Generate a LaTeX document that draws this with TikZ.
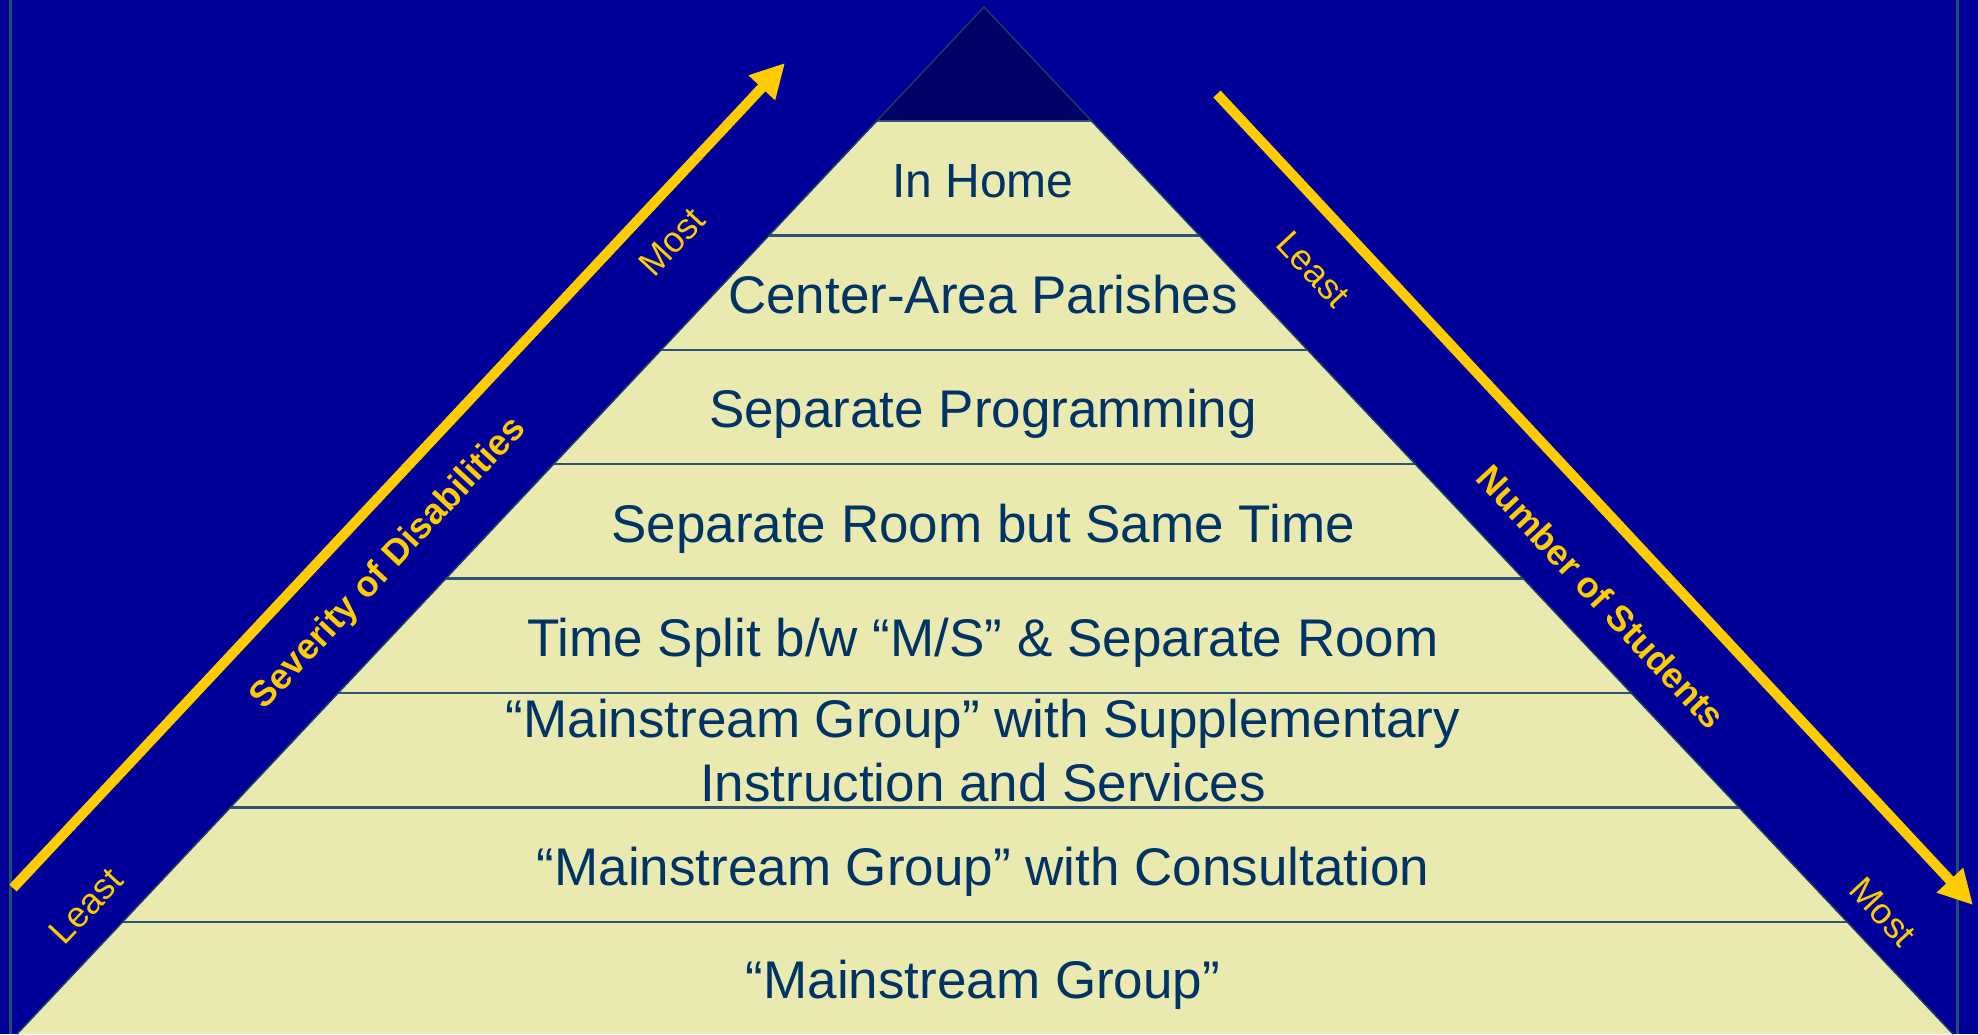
\documentclass[tikz,border=0pt]{standalone}
\usepackage{fontspec}
\setmainfont{Liberation Sans}
\usetikzlibrary{arrows.meta,calc}
\definecolor{bgblue}{RGB}{0,0,153}
\definecolor{capblue}{RGB}{0,0,102}
\definecolor{pyrfill}{RGB}{234,234,176}
\definecolor{txtblue}{RGB}{0,51,102}
\definecolor{bandline}{RGB}{45,85,115}
\definecolor{arrowyellow}{RGB}{255,204,0}
\definecolor{edgeline}{RGB}{25,60,100}
\definecolor{frameline}{RGB}{30,78,112}
\begin{document}
\begin{tikzpicture}[x=1pt,y=-1pt,
  bandtext/.style={text=txtblue, font=\fontsize{53}{64}\selectfont, inner sep=0pt, anchor=base},
  sidelabel/.style={text=arrowyellow, font=\fontsize{36}{40}\selectfont, inner sep=0pt},
  sidetitle/.style={text=arrowyellow, font=\fontsize{36}{40}\selectfont\bfseries, inner sep=0pt},
  yarrow/.style={draw=arrowyellow, line width=10pt, -{Triangle[length=34pt,width=34pt]}},
  band/.style={draw=bandline, line width=2.5pt},
  rim/.style={draw=frameline, line width=3pt}]
\fill[bgblue] (0,0) rectangle (1978,1034);
\useasboundingbox (0,0) rectangle (1978,1034);
% frame lines
\coordinate (vl0) at (10,0);
\coordinate (vl1) at (10,1034);
\coordinate (vr0) at (1957,0);
\coordinate (vr1) at (1957,1034);
\draw[rim] (vl0) -- (vl1);
\draw[rim] (vr0) -- (vr1);
% pyramid
\coordinate (apex) at (984,7);
\coordinate (bl) at (17,1034);
\coordinate (br) at (1953,1034);
\fill[pyrfill] (apex) -- (bl) -- (br) -- cycle;
\fill[capblue] (apex) -- ($(apex)!0.1110!(bl)$) -- ($(apex)!0.1110!(br)$) -- cycle;
\foreach \t in {0.1110,0.2224,0.3338,0.4452,0.5566,0.6680,0.7794,0.8907}{
  \draw[band] ($(apex)!\t!(bl)$) -- ($(apex)!\t!(br)$);
}
\draw[draw=edgeline, line width=1.5pt] (bl) -- (apex) -- (br);
% band texts
\node[bandtext, font=\fontsize{48}{56}\selectfont] (t1) at (983,197) {In Home};
\node[bandtext] (t2) at (983,313) {Center-Area Parishes};
\node[bandtext] (t3) at (983,427) {Separate Programming};
\node[bandtext] (t4) at (983,542) {Separate Room but Same Time};
\node[bandtext] (t5) at (983,656) {Time Split b/w “M/S” \& Separate Room};
\node[bandtext] (t6a) at (983,737) {“Mainstream Group” with Supplementary};
\node[bandtext] (t6b) at (983,801) {Instruction and Services};
\node[bandtext] (t7) at (983,885) {“Mainstream Group” with Consultation};
\node[bandtext] (t8) at (983,998) {“Mainstream Group”};
% arrows
\coordinate (la0) at (13,888);
\coordinate (la1) at (785,63);
\coordinate (ra0) at (1217,94);
\coordinate (ra1) at (1973,905);
\draw[yarrow] (la0) -- (la1);
\draw[yarrow] (ra0) -- (ra1);
% side labels
\node[sidelabel, rotate=47] (lmost) at (672,242) {Most};
\node[sidetitle, rotate=47] (ltitle) at (389,564) {Severity of Disabilities};
\node[sidelabel, rotate=47] (lleast) at (86,906) {Least};
\node[sidelabel, rotate=-47] (rleast) at (1313,269) {Least};
\node[sidetitle, rotate=-47] (rtitle) at (1601,597) {Number of Students};
\node[sidelabel, rotate=-47] (rmost) at (1883,912) {Most};
\end{tikzpicture}
\end{document}
